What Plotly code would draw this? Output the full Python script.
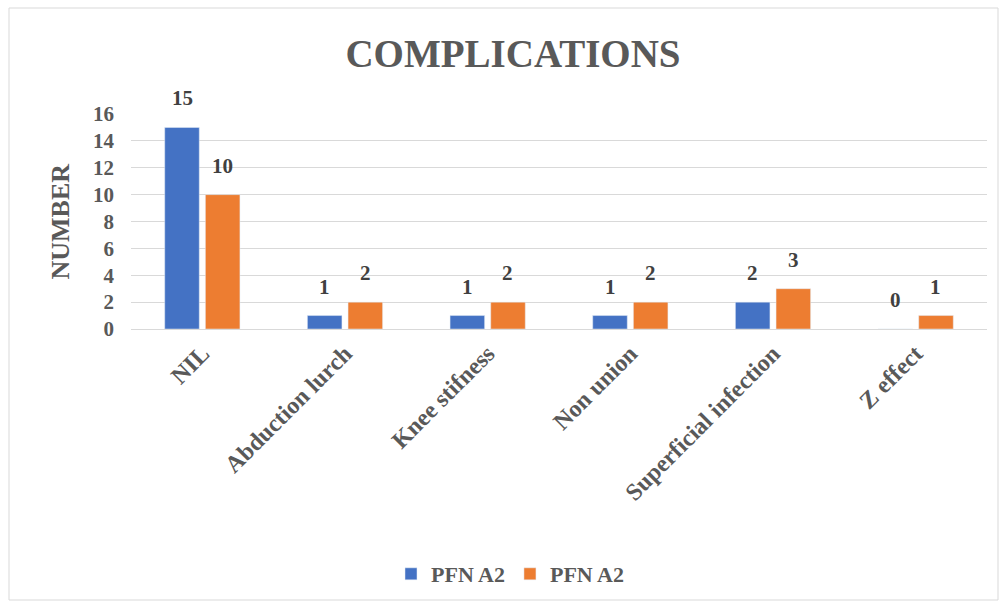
import plotly.graph_objects as go

categories = ["NIL", "Abduction lurch", "Knee stifness", "Non union", "Superficial infection", "Z effect"]
series1_name = "PFN A2"
series1 = [15, 1, 1, 1, 2, 0]
series2_name = "PFN A2"
series2 = [10, 2, 2, 2, 3, 1]
y_ticks = [0, 2, 4, 6, 8, 10, 12, 14, 16]

FONT = "Liberation Serif"
GREY = "#595959"
BARGAP = 0.43
CAT_PX = 853 / len(categories)
SLOT_PX = CAT_PX * (1 - BARGAP) / 2

fig = go.Figure()
for i, (vals, name, color) in enumerate([(series1, series1_name, "#4472C4"),
                                         (series2, series2_name, "#ED7D31")]):
    fig.add_trace(go.Bar(x=categories, y=vals, name=name, marker_color=color))
    shift = (i - 0.5) * SLOT_PX
    for c, v in zip(categories, vals):
        fig.add_annotation(x=c, y=v, xref="x", yref="y", text=str(v), showarrow=False,
                           xshift=shift, yshift=15, yanchor="bottom",
                           font=dict(family=FONT, size=21, color="#404040", weight="bold"))

fig.update_layout(
    width=1006, height=609,
    margin=dict(l=131, r=19, t=114, b=280),
    paper_bgcolor="white", plot_bgcolor="white",
    barmode="group", bargap=BARGAP, bargroupgap=0.15,
    font=dict(family=FONT, color=GREY),
    title=dict(text="COMPLICATIONS", x=513 / 1006, xref="container", xanchor="center",
               y=1 - 53 / 609, yref="container", yanchor="middle",
               font=dict(family=FONT, size=39, color=GREY, weight="bold")),
    showlegend=True,
    legend=dict(orientation="h", x=(510 - 131) / 856, xanchor="center", y=-(574 - 329) / 215,
                yanchor="middle",
                font=dict(family=FONT, size=22, color=GREY, weight="bold"),
                traceorder="normal"),
)
fig.update_yaxes(range=[0, 16], tickvals=y_ticks, showgrid=True, gridcolor="#D9D9D9",
                 zeroline=False, showline=False,
                 tickfont=dict(family=FONT, size=21, color=GREY, weight="bold"), ticklabelstandoff=16)
fig.update_xaxes(tickangle=-45, showline=True, linecolor="#D9D9D9",
                 tickfont=dict(family=FONT, size=24, color=GREY, weight="bold"))

fig.add_annotation(text="NUMBER", textangle=-90, xref="paper", yref="paper",
                   x=(60 - 131) / 856, xanchor="center", y=0.5, showarrow=False,
                   font=dict(family=FONT, size=26, color=GREY, weight="bold"))
fig.add_shape(type="rect", xref="paper", yref="paper",
              x0=(9 - 131) / 856, x1=(998 - 131) / 856,
              y0=-(600 - 329) / 215, y1=(329 - 8) / 215,
              line=dict(color="#D9D9D9", width=1), layer="below")

fig.write_html("out.html", post_script="document.body.style.margin='0';",
               config={"displayModeBar": False})
